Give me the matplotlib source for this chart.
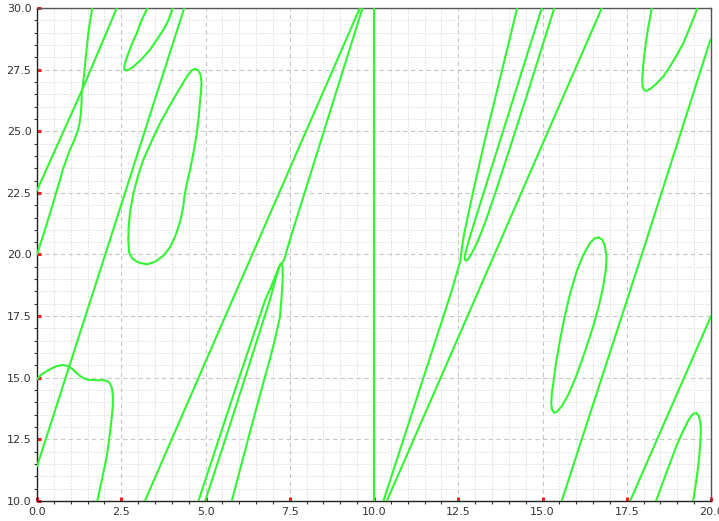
import matplotlib
matplotlib.use("Agg")
import matplotlib.pyplot as plt
from matplotlib.ticker import MultipleLocator, FormatStrFormatter

# ---- data (x, y pairs of each traced contour) ----
line1_x = [0.0, 1.33, 2.37]
line1_y = [22.6, 26.65, 30.0]

curve1_x = [0.0, 0.2, 0.39, 0.6, 0.78, 0.95, 1.1, 1.2, 1.26, 1.3, 1.32, 1.33]
curve1_y = [20.0, 20.85, 21.68, 22.65, 23.5, 24.15, 24.62, 24.98, 25.3, 25.7, 26.1, 26.62]

curve2_x = [1.35, 1.38, 1.42, 1.47, 1.52, 1.58, 1.64]
curve2_y = [26.72, 27.1, 27.62, 28.3, 28.97, 29.5, 30.0]

u1_x = [3.28, 3.1, 2.96, 2.82, 2.71, 2.63, 2.59, 2.6, 2.65, 2.73, 2.86, 3.1,
        3.35, 3.55, 3.75, 3.9, 4.03]
u1_y = [30.0, 29.5, 28.97, 28.55, 28.16, 27.85, 27.62, 27.5, 27.46, 27.5,
        27.62, 27.92, 28.30, 28.7, 29.11, 29.5, 30.0]

loop1_x = [4.69, 4.78, 4.85, 4.88, 4.87, 4.84, 4.8, 4.74, 4.66, 4.56, 4.45,
           4.38, 4.34, 4.25, 4.12, 3.95, 3.75, 3.5, 3.26, 3.0, 2.82, 2.73,
           2.71, 2.72, 2.76, 2.86, 3.0, 3.15, 3.4, 3.65, 3.9, 4.15, 4.35,
           4.49, 4.6, 4.69]
loop1_y = [27.53, 27.48, 27.3, 27.0, 26.6, 26.27, 25.6, 24.91, 24.25, 23.56,
           22.9, 22.4, 21.94, 21.35, 20.8, 20.3, 19.95, 19.7, 19.6, 19.68,
           19.85, 20.1, 20.6, 21.12, 21.7, 22.48, 23.2, 23.83, 24.6, 25.32,
           25.95, 26.54, 27.0, 27.3, 27.48, 27.53]

line2_x = [0.0, 1.92, 4.37]
line2_y = [11.4, 19.55, 30.0]

wiggle_x = [0.0, 0.15, 0.39, 0.6, 0.78, 0.92, 1.03, 1.15, 1.28, 1.4, 1.52,
            1.75, 1.97, 2.08, 2.16, 2.22, 2.25, 2.25, 2.22, 2.15, 2.07, 1.93, 1.79]
wiggle_y = [14.95, 15.15, 15.35, 15.48, 15.52, 15.47, 15.38, 15.22, 15.07,
            14.97, 14.92, 14.9, 14.9, 14.87, 14.78, 14.6, 14.3, 13.9, 13.41,
            12.6, 11.79, 10.9, 10.0]

line3_x = [3.20, 6.02, 9.58]
line3_y = [10.0, 18.85, 30.0]

hookA_x = [4.79, 5.73, 6.77, 6.95, 7.08, 7.17, 7.22, 7.28, 7.33, 7.51, 9.66]
hookA_y = [10.0, 13.9, 18.15, 18.7, 19.15, 19.45, 19.6, 19.68, 19.78, 20.62, 30.0]

hookBC_x = [4.99, 5.73, 6.91, 7.1, 7.18, 7.23, 7.27, 7.29, 7.29, 7.27, 7.21,
            7.05, 6.9, 6.71, 6.3, 5.78]
hookBC_y = [10.0, 13.1, 18.15, 19.1, 19.45, 19.62, 19.62, 19.45, 19.0, 18.5,
            17.47, 16.5, 15.7, 14.77, 12.7, 10.0]

vline_x = [10.0, 10.0]
vline_y = [10.0, 30.0]

hookP_x = [10.28, 12.31, 12.5, 12.56, 12.6, 12.67, 12.76, 12.95, 13.3, 13.75, 14.25]
hookP_y = [10.0, 18.55, 19.45, 19.72, 20.2, 20.8, 21.4, 22.6, 24.7, 27.2, 30.0]

hookQR_x = [14.98, 13.0, 12.84, 12.72, 12.69, 12.7, 12.74, 12.8, 12.9, 13.05,
            13.2, 13.35, 13.6, 14.5, 15.35]
hookQR_y = [30.0, 21.4, 20.7, 20.1, 19.9, 19.78, 19.75, 19.82, 20.05, 20.45,
            20.95, 21.5, 22.5, 26.3, 30.0]

line4_x = [10.38, 13.15, 16.76]
line4_y = [10.0, 18.67, 30.0]

loop2_x = [16.66, 16.78, 16.85, 16.9, 16.88, 16.8, 16.67, 16.5, 16.27, 16.01,
           15.78, 15.57, 15.43, 15.35, 15.28, 15.26, 15.28, 15.32, 15.4, 15.52,
           15.66, 15.82, 16.01, 16.2, 16.4, 16.55, 16.66]
loop2_y = [20.69, 20.6, 20.35, 19.9, 19.4, 18.69, 17.9, 17.07, 16.1, 15.1,
           14.35, 13.85, 13.62, 13.58, 13.7, 13.96, 14.4, 14.77, 15.6, 16.53,
           17.5, 18.42, 19.3, 19.95, 20.45, 20.66, 20.69]

line5_x = [15.57, 17.99, 19.95, 20.0]
line5_y = [10.0, 20.18, 28.57, 28.75]

line6_x = [17.6, 19.95, 20.0]
line6_y = [10.0, 17.34, 17.5]

u2_x = [18.24, 18.19, 18.14, 18.09, 18.04, 17.99, 17.96, 17.97, 18.02, 18.09,
        18.2, 18.39, 18.6, 18.78, 18.98, 19.18, 19.4, 19.6]
u2_y = [30.0, 29.6, 29.24, 28.8, 28.3, 27.7, 27.08, 26.8, 26.66, 26.64,
        26.72, 26.94, 27.25, 27.62, 28.08, 28.57, 29.3, 30.0]

loop3_x = [18.37, 18.57, 18.78, 18.98, 19.18, 19.3, 19.4, 19.48, 19.56, 19.63,
           19.68, 19.7, 19.69, 19.66, 19.62, 19.55, 19.47]
loop3_y = [10.0, 10.75, 11.52, 12.25, 12.87, 13.2, 13.43, 13.54, 13.57, 13.47,
           13.25, 12.9, 12.5, 11.95, 11.38, 10.7, 10.0]

curves = [
    (line1_x, line1_y), (curve1_x, curve1_y), (curve2_x, curve2_y),
    (u1_x, u1_y), (loop1_x, loop1_y), (line2_x, line2_y),
    (wiggle_x, wiggle_y), (line3_x, line3_y), (hookA_x, hookA_y),
    (hookBC_x, hookBC_y), (vline_x, vline_y), (hookP_x, hookP_y),
    (hookQR_x, hookQR_y), (line4_x, line4_y), (loop2_x, loop2_y),
    (line5_x, line5_y), (line6_x, line6_y), (u2_x, u2_y), (loop3_x, loop3_y),
]

x_range = (0.0, 20.0)
y_range = (10.0, 30.0)
major_step = 2.5
minor_step = 0.5

# ---- figure ----
fig = plt.figure(figsize=(7.19, 5.21), dpi=100)
ax = fig.add_axes([37 / 719, 1 - 501 / 521, (711 - 37) / 719, (501 - 8) / 521])

for cx, cy in curves:
    ax.plot(cx, cy, color="#33f533", lw=1.5, solid_joinstyle="round",
            solid_capstyle="round", zorder=3)

ax.set_xlim(*x_range)
ax.set_ylim(*y_range)

for axis in (ax.xaxis, ax.yaxis):
    axis.set_major_locator(MultipleLocator(major_step))
    axis.set_minor_locator(MultipleLocator(minor_step))
    axis.set_major_formatter(FormatStrFormatter("%.1f"))

ax.grid(which="major", color="#c8c8c8", linestyle=(0, (4, 3)), lw=0.8, zorder=0)
ax.grid(which="minor", color="#dedede", linestyle=(0, (1.5, 1.5)), lw=0.7, zorder=0)
ax.set_axisbelow(True)

ax.tick_params(which="major", direction="in", length=3, width=2.2,
               color="#ff1a1a", labelsize=8, labelcolor="#333333", pad=4)
ax.tick_params(which="minor", direction="out", length=2.2, width=0.8,
               color="#333333")

for side in ("left", "bottom"):
    ax.spines[side].set_color("#222222")
    ax.spines[side].set_linewidth(1.0)
for side in ("top", "right"):
    ax.spines[side].set_color("#555555")
    ax.spines[side].set_linewidth(1.0)

fig.savefig("out.png", dpi=100)
